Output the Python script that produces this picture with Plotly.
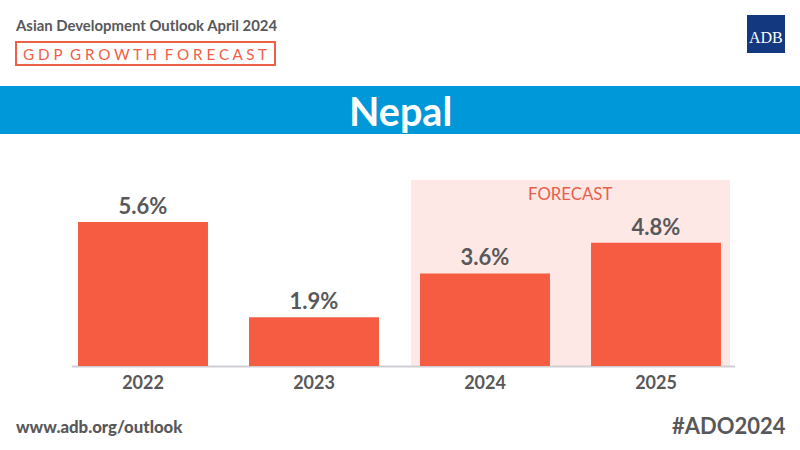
import plotly.graph_objects as go

years = ['2022', '2023', '2024', '2025']
growth = [5.6, 1.9, 3.6, 4.8]
bar_labels = ['5.6%', '1.9%', '3.6%', '4.8%']

RED = '#F55C42'
GREY = '#58585A'
FONT = 'Lato'
W, H = 800, 450


# pixel helpers, everything decorative is placed in paper coords
def px(x):
    return x / W


def py(y):
    return 1 - y / H


fig = go.Figure()
fig.add_trace(go.Bar(x=years, y=growth, width=0.76, marker=dict(color=RED, line=dict(width=0)),
                     text=bar_labels, textposition='outside', cliponaxis=False,
                     textfont=dict(family=FONT, size=22, color=GREY, weight=700),
                     hoverinfo='skip'))

shapes = [
    # blue title band
    dict(type='rect', xref='paper', yref='paper', x0=0, x1=1, y0=py(134), y1=py(86),
         fillcolor='#0098D8', line_width=0, layer='below'),
    # forecast panel
    dict(type='rect', xref='paper', yref='paper', x0=px(411), x1=px(730), y0=py(366), y1=py(180),
         fillcolor='#FEE8E5', line_width=0, layer='below'),
    # baseline
    dict(type='line', xref='paper', yref='paper', x0=px(72), x1=px(735), y0=py(366.5), y1=py(366.5),
         line=dict(color='#CFCFD3', width=2), layer='below'),
    # GDP box
    dict(type='rect', xref='paper', yref='paper', x0=px(16), x1=px(275), y0=py(65), y1=py(42),
         fillcolor='rgba(0,0,0,0)', line=dict(color='#EE5F48', width=2)),
    # ADB logo
    dict(type='rect', xref='paper', yref='paper', x0=px(747), x1=px(785), y0=py(53), y1=py(15),
         fillcolor='#14387F', line_width=0),
]


def note(text, x, y, size, color, anchor='left', weight=400, family=FONT):
    return dict(text=text, x=px(x), y=py(y), xref='paper', yref='paper', showarrow=False,
                xanchor=anchor, yanchor='middle', align=anchor,
                font=dict(family=family, size=size, color=color, weight=weight))


annotations = [
    note('Asian Development Outlook April 2024', 12.5, 25, 14.9, GREY, weight=700),
    note('G D P  G R O W T H  F O R E C A S T', 145, 54, 15.2, '#EE5F48', anchor='center'),
    note('ADB', 766, 38, 16, 'white', anchor='center', family='Liberation Serif'),
    note('Nepal', 400, 110, 39.5, 'white', anchor='center', weight=700),
    note('FORECAST', 570, 193, 16.8, '#E8604C', anchor='center'),
    note('www.adb.org/outlook', 14, 426, 16.8, GREY, weight=900),
    note('#ADO2024', 788, 425, 22, GREY, anchor='right', weight=700),
]

fig.update_layout(width=W, height=H, margin=dict(l=0, r=0, t=0, b=0),
                  paper_bgcolor='white', plot_bgcolor='rgba(0,0,0,0)',
                  showlegend=False, shapes=shapes, annotations=annotations)
fig.update_xaxes(domain=[px(57.5), px(741.5)], type='category', range=[-0.5, 3.5],
                 showline=False, showgrid=False, zeroline=False, ticks='', ticklabelstandoff=4,
                 tickfont=dict(family=FONT, size=18, color=GREY, weight=700))
fig.update_yaxes(domain=[py(366), py(100)], range=[0, 266 / 25.7], visible=False)

# page has a default 8px body margin, drop it so the figure fills the window
fig.write_html('out.html', config={'displayModeBar': False},
               post_script="document.body.style.margin='0';document.body.style.overflow='hidden';")
